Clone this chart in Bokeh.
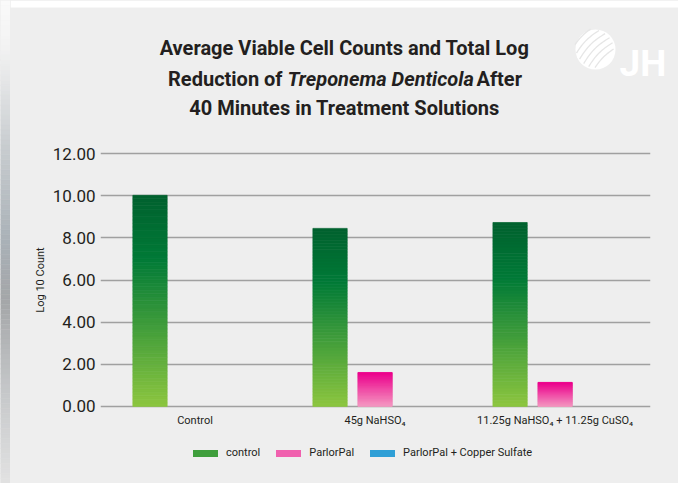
import numpy as np
from bokeh.plotting import figure
from bokeh.layouts import column, row
from bokeh.models import (ColumnDataSource, FixedTicker, NumeralTickFormatter,
                          Range1d, Legend, LegendItem)
from bokeh.core.properties import value
from bokeh.embed import file_html
from bokeh.resources import INLINE

# ---------------- data ----------------
categories = ["Control", "45g NaHSO\u2084", "11.25g NaHSO\u2084 + 11.25g CuSO\u2084"]
series_names = ["control", "ParlorPal", "ParlorPal + Copper Sulfate"]
control_vals = [10.02, 8.45, 8.73]
parlorpal_vals = [0.0, 1.61, 1.14]
copper_vals = [0.0, 0.0, 0.0]
y_ticks = [0, 2, 4, 6, 8, 10, 12]
title_lines = ["Average Viable Cell Counts and Total Log",
               "Reduction of ", "Treponema Denticola", "After",
               "40 Minutes in Treatment Solutions"]

# ---------------- style ----------------
FONT = "Roboto"
TXT = "#231f20"
BG = "#eeeeee"
SW = 10            # decorative left strip
W = 678 - SW
TOTAL_H = 483
green_stops = [(0.0, "#00612e"), (0.3, "#007a37"), (1.0, "#8dc63f")]
pink_stops = [(0.0, "#ec008c"), (1.0, "#f49ac2")]
blue_stops = [(0.0, "#0072bc"), (1.0, "#6dcff6")]
legend_cols = ["#3f9e3c", "#f060ae", "#2f9fd6"]
strip_stops = [(0.0, "#fafafa"), (0.1, "#f2f2f2"), (0.3, "#c9cdd0"), (0.5, "#a9b1b7"),
               (0.62, "#a4a6a8"), (0.8, "#c4c6c8"), (1.0, "#e2e2e2")]


def hex2rgb(h):
    h = h.lstrip("#")
    return np.array([int(h[i:i + 2], 16) for i in (0, 2, 4)], float)


def grad(stops, t):
    for (t0, c0), (t1, c1) in zip(stops[:-1], stops[1:]):
        if t <= t1:
            f = (t - t0) / (t1 - t0) if t1 > t0 else 0
            c = hex2rgb(c0) * (1 - f) + hex2rgb(c1) * f
            return "#%02x%02x%02x" % tuple(int(round(v)) for v in c)
    return stops[-1][1]


def blank(fig):
    fig.background_fill_color = BG
    fig.border_fill_color = BG
    fig.outline_line_color = None
    fig.xgrid.visible = False
    fig.ygrid.visible = False


# ---------------- left decorative strip ----------------
strip = figure(width=SW, height=TOTAL_H, output_backend="svg", toolbar_location=None,
               x_range=Range1d(0, SW), y_range=Range1d(0, TOTAL_H),
               x_axis_type=None, y_axis_type=None, min_border=0, frame_align=False)
blank(strip)
NS = 97
sb = [TOTAL_H - (k + 1) * TOTAL_H / NS for k in range(NS)]
st = [TOTAL_H - k * TOTAL_H / NS for k in range(NS)]
sc = [grad(strip_stops, (k + 0.5) / NS) for k in range(NS)]
strip.quad(left=0, right=SW, bottom=sb, top=st, fill_color=sc, line_color=sc, line_width=0.5)

# ---------------- header (title + logo) ----------------
HH = 138
head = figure(width=W, height=HH, output_backend="svg", toolbar_location=None,
              x_range=Range1d(SW, 678), y_range=Range1d(0, HH),
              x_axis_type=None, y_axis_type=None, min_border=0, frame_align=False)
blank(head)
head.quad(left=SW, right=678, bottom=HH - 7, top=HH, fill_color="white", line_color=None)
tk = dict(text_font=value(FONT), text_font_style="bold", text_font_size="20px",
          text_color=TXT, text_baseline="middle")
head.text(x=[344], y=[HH - 47], text=[title_lines[0]], text_align="center", **tk)
head.text(x=[287], y=[HH - 78], text=[title_lines[1]], text_align="right", **tk)
tki = dict(tk)
tki["text_font_style"] = "bold italic"
head.text(x=[287], y=[HH - 78], text=[title_lines[2]], text_align="left", **tki)
head.text(x=[476], y=[HH - 78], text=[title_lines[3]], text_align="left", **tk)
head.text(x=[344], y=[HH - 107], text=[title_lines[4]], text_align="center", **tk)

# logo
cx, cy, r = 595, HH - 49, 20
head.scatter(x=[cx], y=[cy], size=2 * r, marker="circle", fill_color="white", line_color=None)
u = np.array([1, 1]) / np.sqrt(2)
n = np.array([-1, 1]) / np.sqrt(2)
for d in [-14, -8, -2, 4, 10, 16]:
    L = np.sqrt(max(r * r - d * d, 0)) * 0.92
    t = np.linspace(-L, L, 20)
    bend = 3.0 * np.cos(t / r * np.pi / 2)
    px = cx + d * n[0] + t * u[0] + bend * n[0]
    py = cy + d * n[1] + t * u[1] + bend * n[1]
    head.line(px, py, line_color="#e6e6e6", line_width=1.3)
head.text(x=[619], y=[HH - 63], text=["JH"], text_font=value(FONT), text_font_style="bold",
          text_font_size="37px", text_color="white", text_baseline="alphabetic", text_align="left")

# ---------------- chart ----------------
offsets = [-0.25, 0.0, 0.25]
bar_w = 35 / 180
N = 60
xs, bottoms, tops, cols = [], [], [], []
for vals, stops, off in zip([control_vals, parlorpal_vals, copper_vals],
                            [green_stops, pink_stops, blue_stops], offsets):
    for i, v in enumerate(vals):
        if v <= 0:
            continue
        for k in range(N):
            xs.append(i + off)
            bottoms.append(v * k / N)
            tops.append(v * (k + 1) / N)
            cols.append(grad(stops, 1 - (k + 0.5) / N))
src = ColumnDataSource(dict(x=xs, bottom=bottoms, top=tops, color=cols))

p = figure(width=W, height=302, output_backend="svg", toolbar_location=None,
           x_range=Range1d(-0.525, 2.53), y_range=Range1d(-0.1, 12.1),
           min_border_left=100 - SW, min_border_right=28, min_border_top=13,
           min_border_bottom=32, frame_align=False)
p.background_fill_color = BG
p.border_fill_color = BG
p.outline_line_color = None

p.vbar(x="x", bottom="bottom", top="top", width=bar_w - 0.004, source=src,
       fill_color="color", line_color="color", line_width=0.7)

p.yaxis.ticker = FixedTicker(ticks=y_ticks)
p.yaxis.formatter = NumeralTickFormatter(format="0.00")
p.yaxis.axis_label = "Log 10 Count"
p.yaxis.axis_label_text_font = FONT
p.yaxis.axis_label_text_font_style = "normal"
p.yaxis.axis_label_text_font_size = "11px"
p.yaxis.axis_label_text_color = TXT
p.yaxis.axis_label_standoff = 3
p.yaxis.major_label_text_font = FONT
p.yaxis.major_label_text_font_size = "17px"
p.yaxis.major_label_text_color = TXT
p.yaxis.major_label_standoff = 5
p.yaxis.major_tick_out = 0
p.yaxis.axis_line_color = None
p.yaxis.major_tick_line_color = None
p.yaxis.minor_tick_line_color = None

p.xaxis.ticker = FixedTicker(ticks=list(range(len(categories))))
p.xaxis.major_label_overrides = {i: c for i, c in enumerate(categories)}
p.xaxis.major_label_text_font = FONT
p.xaxis.major_label_text_font_size = "11px"
p.xaxis.major_label_text_color = TXT
p.xaxis.major_label_standoff = 5
p.xaxis.major_tick_out = 0
p.xaxis.axis_line_color = None
p.xaxis.major_tick_line_color = None
p.xaxis.minor_tick_line_color = None

p.xgrid.visible = False
p.ygrid.grid_line_color = "#a0a0a0"
p.ygrid.grid_line_width = 1.6

# ---------------- footer (legend) ----------------
FH = 43
foot = figure(width=W, height=FH, output_backend="svg", toolbar_location=None,
              x_range=Range1d(SW, 678), y_range=Range1d(0, FH),
              x_axis_type=None, y_axis_type=None, min_border=0, frame_align=False)
blank(foot)
items = []
for name, c in zip(series_names, legend_cols):
    rr = foot.line(x=[-20, -10], y=[-20, -20], line_width=7, line_cap="round", line_color=c)
    items.append(LegendItem(label=name, renderers=[rr]))
lg = Legend(items=items, orientation="horizontal", location=(193 - SW, 24),
            background_fill_alpha=0, border_line_color=None, padding=0, margin=0,
            glyph_width=25, glyph_height=12, label_height=12, label_standoff=8,
            spacing=16, label_text_font=FONT, label_text_font_size="11px",
            label_text_color=TXT, label_text_baseline="middle")
foot.add_layout(lg, "center")

main = column(head, p, foot, spacing=0, styles={"background-color": BG})
layout = row(strip, main, spacing=0, styles={"background-color": BG})
open("out.html", "w").write(file_html(layout, INLINE))
